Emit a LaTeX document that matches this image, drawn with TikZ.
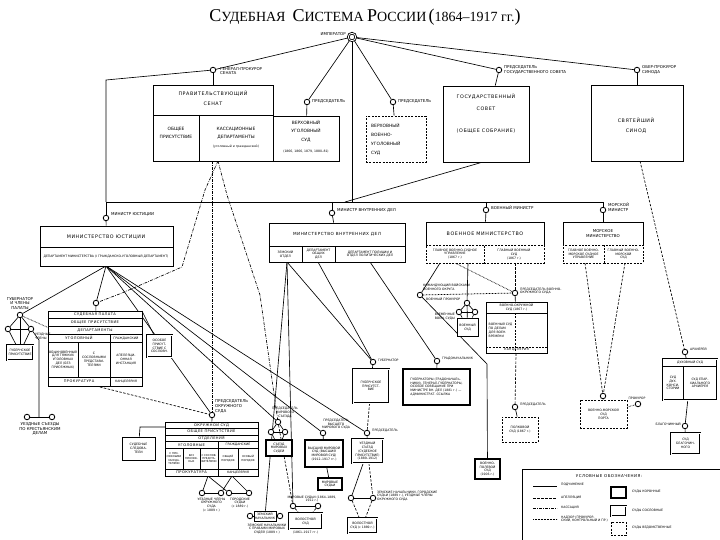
\documentclass[tikz,border=0pt]{standalone}
\usepackage{fontspec}
\setmainfont{DejaVu Sans}
\newfontfamily\hdrfont[LetterSpace=12]{DejaVu Sans}
\newfontfamily\serifT{Liberation Serif}
\usetikzlibrary{fit,backgrounds}
\newcommand\rbox[6]{\node[#1, fit={(#3,#4)(#5,#6)}] (#2) {};}
\newcommand\bigL[1]{{\fontsize{18}{18}\selectfont #1}}
\tikzset{
 t/.style={font=\fontsize{4}{4.9}\selectfont, inner sep=0, align=center},
 ts/.style={font=\fontsize{3.1}{3.8}\selectfont, inner sep=0, align=center},
 tw/.style={t, anchor=west, align=left},
 te/.style={t, anchor=east, align=right},
 thA/.style={font=\hdrfont\fontsize{4.8}{6}\selectfont, inner sep=0, align=center},
 thB/.style={font=\hdrfont\fontsize{3.6}{4.4}\selectfont, inner sep=0, align=center},
 bx/.style={draw, line width=0.9pt, inner sep=0, fill=white},
 kbx/.style={draw, line width=1.7pt, inner sep=0, fill=white},
 dbx/.style={draw, double, double distance=0.8pt, line width=0.65pt, inner sep=0, fill=white},
 vbx/.style={draw, line width=0.9pt, dash pattern=on 2pt off 1.3pt, inner sep=0, fill=white},
 cir/.style={circle, draw, line width=0.85pt, minimum size=5.5pt, inner sep=0, fill=white},
 pod/.style={line width=0.65pt},
 app/.style={line width=0.65pt, dash pattern=on 2.5pt off 1.5pt},
 kas/.style={line width=0.65pt, dash pattern=on 3pt off 1.2pt on 0.6pt off 1.2pt},
 nad/.style={line width=0.75pt, dash pattern=on 0.6pt off 0.9pt},
}
\begin{document}
\begin{tikzpicture}[x=1pt,y=-1pt]
\useasboundingbox (0,0) rectangle (720,540);
\begin{scope}[on background layer]
\fill[white] (0,0) rectangle (720,540);
\end{scope}

% ---------- title ----------
\node[font=\serifT\fontsize{14}{14}\selectfont, inner sep=0] (title) at (365,17)
 {\bigL{С}УДЕБНАЯ\ \ \bigL{С}ИСТЕМА \bigL{Р}ОССИИ\,\bigL{(}1864–1917 гг.\bigL{)}};

% ---------- circles ----------
\node[cir, double, double distance=0.8pt, minimum size=7.5pt] (E) at (352,37) {};
\node[cir] (GP) at (213,70) {};
\node[cir] (P1) at (307,102) {};
\node[cir] (P2) at (393,102) {};
\node[cir] (P3) at (499,70) {};
\node[cir] (P4) at (637,70) {};
\node[cir] (MJ) at (106,218) {};
\node[cir] (MV) at (332,213) {};
\node[cir] (MW) at (486,210) {};
\node[cir] (MM) at (603,210) {};
\node[cir] (SP) at (96,303) {};
\node[cir] (GT) at (20,315) {};
\node[cir] (GL) at (8,329) {};
\node[cir] (GR) at (31,329) {};
\node[cir] (BA1) at (27,417) {};
\node[cir] (BA2) at (52,417) {};
\node[cir] (OS) at (212,415) {};
\node[cir] (A1) at (202,493) {};
\node[cir] (A2) at (221,493) {};
\node[cir] (B1) at (229,493) {};
\node[cir] (B2) at (249,493) {};
\node[cir] (MS) at (278,422) {};
\node[cir] (MSL) at (271,432) {};
\node[cir] (MSR) at (285,432) {};
\node[cir] (HM) at (323,433) {};
\node[cir] (C1) at (293,506) {};
\node[cir] (C2) at (318,506) {};
\node[cir] (Z1) at (250,516) {};
\node[cir] (Z2) at (280,516) {};
\node[cir] (GV) at (373,362) {};
\node[cir] (PO) at (437,361) {};
\node[cir] (UE) at (367,433) {};
\node[cir] (N1) at (351,498) {};
\node[cir] (N2) at (373,498) {};
\node[cir] (TW) at (420,295) {};
\node[cir] (DT) at (467,303) {};
\node[cir] (DL) at (459,312) {};
\node[cir] (DR) at (475,312) {};
\node[cir] (MO) at (515,293) {};
\node[cir] (PC) at (515,407) {};
\node[cir] (NC) at (603,396) {};
\node[cir] (NP) at (638,404) {};
\node[cir] (CC) at (685,352) {};
\node[cir] (CC2) at (685,426) {};

% ---------- boxes ----------
\rbox{bx}{S}{153}{85}{273}{161}
\rbox{bx}{VUS}{273}{116}{339}{161}
\rbox{vbx}{VVUS}{366}{116}{426}{162}
\rbox{bx}{GS}{443}{86}{529}{162}
\rbox{bx}{SY}{591}{85}{683}{161}
\rbox{bx}{MJB}{40}{226}{173}{266}
\rbox{bx}{MVB}{269}{223}{405}{262}
\rbox{bx}{WMT}{426}{222}{544}{245}
\rbox{vbx}{WML}{426}{245}{484}{263}
\rbox{vbx}{WMR}{484}{245}{544}{263}
\rbox{bx}{NMT}{563}{222}{643}{245}
\rbox{vbx}{NML}{563}{245}{604}{263}
\rbox{vbx}{NMR}{604}{245}{643}{263}
\rbox{bx}{SPB}{48}{311}{142}{386}
\rbox{dbx}{OP}{147}{335}{172}{357}
\rbox{dbx}{GB}{7}{345}{33}{360}
\rbox{bx}{OSB}{165}{422}{258}{476}
\rbox{bx}{SL}{122}{437}{155}{460}
\rbox{kbx}{MSB}{266}{440}{292}{456}
\rbox{kbx}{HMB}{305}{440}{343}{467}
\rbox{kbx}{MSJ}{318}{478}{342}{490}
\rbox{dbx}{VB2}{289}{513}{322}{529}
\rbox{bx}{ZB}{254}{511}{276}{521}
\rbox{dbx}{GVB}{353}{369}{389}{403}
\rbox{kbx}{POB}{403}{369}{470}{405}
\rbox{dbx}{UEB}{352}{439}{383}{463}
\rbox{dbx}{VB}{348}{518}{377}{533}
\rbox{bx}{MOB}{486}{302}{547}{353}
\rbox{bx}{DB}{457}{318}{478}{336}
\rbox{vbx}{PCB}{502}{417}{538}{442}
\rbox{kbx}{VPS}{475}{459}{500}{479}
\rbox{vbx}{NCB}{580}{400}{627}{428}
\rbox{dbx}{CB}{663}{359}{717}{400}
\rbox{dbx}{CB2}{671}{433}{700}{454}

% inner divisions
\draw[line width=0.8pt] (153,115) -- (273,115) (199,115) -- (199,161);
\draw[line width=0.7pt] (40,247) -- (173,247);
\draw[line width=0.7pt] (269,246) -- (405,246) (302,246) -- (302,262) (335,246) -- (335,262);
\draw[line width=0.7pt] (48,318) -- (142,318) (48,326) -- (142,326) (48,334) -- (142,334) (48,342) -- (142,342) (48,377) -- (142,377) (110,334) -- (110,386) (78,342) -- (78,377);
\draw[line width=0.7pt] (165,428.5) -- (258,428.5) (165,435) -- (258,435) (165,441.5) -- (258,441.5) (165,448) -- (258,448) (165,469) -- (258,469) (218,441.5) -- (218,476) (183,448) -- (183,469) (200,448) -- (200,469) (238,448) -- (238,469);
\draw[line width=0.7pt] (486,313) -- (547,313);
\draw[line width=0.7pt, dash pattern=on 2pt off 1.3pt] (515,313) -- (515,353) (486,347) -- (547,347);
\draw[line width=0.7pt] (663,366) -- (717,366) (683,366) -- (683,400);

% ---------- connector points ----------
\coordinate (Lc) at (106,80);
\coordinate (Bl) at (106,202);
\coordinate (Bv) at (332,202);
\coordinate (Bm) at (352,202);
\coordinate (Bg) at (345,202);
\coordinate (Bw) at (486,202);
\coordinate (Br) at (603,202);
\coordinate (GSa) at (483,162);
\coordinate (Sk) at (218,161);
\coordinate (Sk2) at (212,161);
\coordinate (K1) at (205,190);
\coordinate (K2) at (182,267);
\coordinate (K3) at (122,293);
\coordinate (K4) at (227,195);
\coordinate (K5) at (260,295);
\coordinate (MJs) at (106,266);
\coordinate (Vg) at (39,340);
\coordinate (Bc) at (39,417);
\coordinate (OSa) at (208,476);
\coordinate (OSb) at (232,476);
\coordinate (OSw) at (165,427);
\coordinate (SLc) at (140,427);
\coordinate (MVz) at (287,262);
\coordinate (MVo) at (318,262);
\coordinate (MVp) at (370,262);
\coordinate (WMl) at (440,263);
\coordinate (WMl2) at (455,263);
\coordinate (WMm) at (468,263);
\coordinate (WMr) at (515,263);
\coordinate (Tk) at (487,364);
\coordinate (NMl) at (585,263);
\coordinate (NMr) at (625,263);
\coordinate (SYs) at (640,161);
\coordinate (SPne) at (142,311);
\coordinate (SPs) at (96,386);

% ---------- connectors ----------
\begin{scope}[on background layer]
\draw[pod] (E) -- (GP);
\draw[pod] (GP) -- (Lc) -- (Bl);
\draw[pod] (Bl) -- (Br);
\draw[pod] (E) -- (P1);
\draw[pod] (E) -- (P2);
\draw[pod] (E) -- (P3);
\draw[pod] (E) -- (P4);
\draw[pod] (E) -- (Bm);
\draw[pod] (GSa) -- (Bg);
\draw[pod] (GP) -- (S);
\draw[pod] (P1) -- (VUS);
\draw[pod] (P2) -- (VVUS);
\draw[pod] (P3) -- (GS);
\draw[pod] (P4) -- (SY);
\draw[pod] (Bl) -- (MJ);
\draw[pod] (Bv) -- (MV);
\draw[pod] (Bw) -- (MW);
\draw[pod] (Br) -- (MM);
\draw[pod] (MJ) -- (MJB);
\draw[pod] (MV) -- (MVB);
\draw[pod] (MW) -- (WMT);
\draw[pod] (MM) -- (NMT);
% cassation
\draw[kas] (Sk) -- (K1) -- (K2) -- (K3) -- (SP);
\draw[kas] (Sk2) -- (OS);
\draw[kas] (Sk) -- (K4) -- (K5) -- (MS);
% justice
\draw[pod] (MJs) -- (SP);
\draw[pod] (SP) -- (SPB);
\draw[pod] (SPne) -- (OP);
\draw[nad] (GT) -- (SPB);
\draw[pod] (MJs) -- (GT);
\draw[pod] (MJs) -- (OS);
\draw[pod] (MJs) -- (MS);
\draw[pod] (MJs) -- (HM);
\draw[pod] (MJs) -- (UE);
\draw[app] (SPs) -- (OS);
\draw[pod] (GT) -- (GL);
\draw[pod] (GT) -- (GR);
\draw[pod] (GL) -- (GR);
\draw[pod] (GL) -- (GB);
\draw[pod] (GR) -- (GB);
\draw[pod] (GT) -- (GB);
\draw[pod] (GR) -- (Vg) -- (Bc);
\draw[pod] (BA1) -- (BA2);
\draw[pod] (OS) -- (OSB);
\draw[pod] (OSa) -- (A1);
\draw[pod] (OSa) -- (B1);
\draw[pod] (OSb) -- (A2);
\draw[pod] (OSb) -- (B2);
\draw[pod] (A1) -- (A2);
\draw[pod] (B1) -- (B2);
\draw[pod] (OSw) -- (SLc) -- (SL);
\draw[pod] (MS) -- (MSL);
\draw[pod] (MS) -- (MSR);
\draw[pod] (MSL) -- (MSR);
\draw[pod] (MSL) -- (MSB);
\draw[pod] (MSR) -- (MSB);
\draw[pod] (HM) -- (HMB);
\draw[pod] (HMB) -- (MSJ);
\draw[pod] (C1) -- (C2);
\draw[app] (MS) -- (C1);
\draw[app] (C1) -- (VB2);
\draw[app] (C2) -- (VB2);
\draw[pod] (Z1) -- (ZB);
\draw[pod] (ZB) -- (Z2);
% interior
\draw[pod] (MVz) -- (GV);
\draw[pod] (MVz) -- (ZB);
\draw[pod] (MVz) -- (C1);
\draw[pod] (MVo) -- (GV);
\draw[pod] (MVp) -- (PO);
\draw[pod] (GV) -- (GVB);
\draw[pod] (PO) -- (POB);
\draw[app] (GVB) -- (UE);
\draw[pod] (UE) -- (UEB);
\draw[pod] (UEB) -- (N1);
\draw[app] (UEB) -- (N2);
\draw[pod] (N1) -- (N2);
\draw[app] (N1) -- (VB);
\draw[app] (N2) -- (VB);
% military
\draw[pod] (WMl) -- (TW);
\draw[pod] (TW) -- (Tk) -- (VPS);
\draw[pod] (WMm) -- (DT);
\draw[pod] (DT) -- (DL);
\draw[pod] (DT) -- (DR);
\draw[pod] (DL) -- (DR);
\draw[pod] (DL) -- (DB);
\draw[pod] (DR) -- (DB);
\draw[pod] (DT) -- (DB);
\draw[nad] (TW) -- (MO);
\draw[nad] (WMl2) -- (MO);
\draw[app] (WMr) -- (MO);
\draw[pod] (MO) -- (MOB);
\draw[app] (MOB) -- (PC);
\draw[pod] (PC) -- (PCB);
\draw[app] (NMl) -- (NC);
\draw[app] (NMr) -- (NC);
\draw[pod] (NC) -- (NCB);
\draw[nad] (NCB) -- (NP);
\draw[app] (SYs) -- (CC);
\draw[pod] (CC) -- (CB);
\draw[pod] (CB) -- (CC2);
\draw[pod] (CC2) -- (CB2);
\end{scope}

% ---------- texts ----------
\node[te] (tE) at (346,34) {ИМПЕРАТОР};
\node[tw] (tGP) at (220,71) {ГЕНЕРАЛ-ПРОКУРОР\\СЕНАТА};
\node[tw] (tP1) at (312,101) {ПРЕДСЕДАТЕЛЬ};
\node[tw] (tP2) at (398,101) {ПРЕДСЕДАТЕЛЬ};
\node[tw] (tP3) at (504,70) {ПРЕДСЕДАТЕЛЬ\\ГОСУДАРСТВЕННОГО СОВЕТА};
\node[tw] (tP4) at (642,70) {ОБЕР-ПРОКУРОР\\СИНОДА};
\node[thA] (tS1) at (213,94) {ПРАВИТЕЛЬСТВУЮЩИЙ};
\node[thA] (tS2) at (213,104) {СЕНАТ};
\node[t, font=\fontsize{4.4}{8}\selectfont] (tS3) at (176,133) {ОБЩЕЕ\\ПРИСУТСТВИЕ};
\node[t, font=\fontsize{4.4}{8}\selectfont] (tS4) at (236,133) {КАССАЦИОННЫЕ\\ДЕПАРТАМЕНТЫ};
\node[ts] (tS5) at (236,147) {(уголовный и гражданский)};
\node[t, font=\fontsize{4.4}{8.5}\selectfont] (tS6) at (306,131) {ВЕРХОВНЫЙ\\УГОЛОВНЫЙ\\СУД};
\node[ts] (tS7) at (306,152) {(1866, 1866, 1879, 1880–81)};
\node[tw, font=\fontsize{4.4}{9}\selectfont] (tVV) at (371,139) {ВЕРХОВНЫЙ\\ВОЕННО-\\УГОЛОВНЫЙ\\СУД};
\node[thA] (tGS1) at (486,97) {ГОСУДАРСТВЕННЫЙ};
\node[thA] (tGS2) at (486,109) {СОВЕТ};
\node[thA] (tGS3) at (486,131) {(ОБЩЕЕ СОБРАНИЕ)};
\node[thA] (tSY) at (636,126) {СВЯТЕЙШИЙ\\[4pt]СИНОД};
\node[tw] (tMJ) at (111,214) {МИНИСТР ЮСТИЦИИ};
\node[tw] (tMV) at (337,210) {МИНИСТР ВНУТРЕННИХ ДЕЛ};
\node[tw] (tMW) at (491,208) {ВОЕННЫЙ МИНИСТР};
\node[tw] (tMM) at (608,207) {МОРСКОЙ\\МИНИСТР};
\node[thA] (tMJB) at (106,237) {МИНИСТЕРСТВО ЮСТИЦИИ};
\node[ts] (tMJB2) at (106,256.5) {ДЕПАРТАМЕНТ МИНИСТЕРСТВА (I ГРАЖДАНСКО-УГОЛОВНЫЙ ДЕПАРТАМЕНТ)};
\node[thA, font=\hdrfont\fontsize{4.2}{5}\selectfont] (tMVB) at (337,234.5) {МИНИСТЕРСТВО ВНУТРЕННИХ ДЕЛ};
\node[ts] (tMV1) at (285.5,254) {ЗЕМСКИЙ\\ОТДЕЛ};
\node[ts] (tMV2) at (318.5,254) {ДЕПАРТАМЕНТ\\ОБЩИХ\\ДЕЛ};
\node[ts] (tMV3) at (370,254) {ДЕПАРТАМЕНТ ПОЛИЦИИ И\\ОТДЕЛ ПОЛИТИЧЕСКИХ ДЕЛ};
\node[thA] (tWM) at (485,233.5) {ВОЕННОЕ МИНИСТЕРСТВО};
\node[ts] (tWM1) at (455,254) {ГЛАВНОЕ ВОЕННО-СУДНОЕ\\УПРАВЛЕНИЕ\\(1867 г.)};
\node[ts] (tWM2) at (514,254) {ГЛАВНЫЙ ВОЕННЫЙ\\СУД\\(1867 г.)};
\node[t] (tNM) at (603,233.5) {МОРСКОЕ\\МИНИСТЕРСТВО};
\node[ts] (tNM1) at (583.5,254) {ГЛАВНОЕ ВОЕННО-\\МОРСКОЕ СУДНОЕ\\УПРАВЛЕНИЕ};
\node[ts] (tNM2) at (623.5,254) {ГЛАВНЫЙ ВОЕННО-\\МОРСКОЙ\\СУД};
% judicial chamber
\node[thB] (tSP1) at (95,314.5) {СУДЕБНАЯ ПАЛАТА};
\node[thB] (tSP2) at (95,322) {ОБЩЕЕ ПРИСУТСТВИЕ};
\node[thB] (tSP3) at (95,330) {ДЕПАРТАМЕНТЫ};
\node[thB] (tSP4) at (79,338) {УГОЛОВНЫЙ};
\node[ts] (tSP5) at (126,338) {ГРАЖДАНСКИЙ};
\node[ts] (tSP6) at (63,359.5) {ОБЫКНОВЕННЫЙ\\ДЛЯ ТЯЖКИХ\\УГОЛОВНЫХ\\ДЕЛ (БЕЗ\\ПРИСЯЖНЫХ)};
\node[ts] (tSP7) at (94,359.5) {С\\СОСЛОВНЫМИ\\ПРЕДСТАВИ-\\ТЕЛЯМИ};
\node[ts] (tSP8) at (126,359.5) {АПЕЛЛЯЦИ-\\ОННАЯ\\ИНСТАНЦИЯ};
\node[thB] (tSP9) at (79,381.5) {ПРОКУРАТУРА};
\node[ts] (tSP10) at (126,381.5) {КАНЦЕЛЯРИЯ};
\node[ts] (tOP) at (159.5,346) {ОСОБОЕ\\ПРИСУТ-\\СТВИЕ С\\СОСЛОВН.};
% left group
\node[t, anchor=south] (tGT) at (20,310) {ГУБЕРНАТОР\\И ЧЛЕНЫ\\ПАЛАТЫ};
\node[ts, anchor=west, align=left] (tGR) at (35,336) {УЕЗДНЫЕ\\ЧЛЕНЫ};
\node[ts] (tGB) at (20,352.5) {ГУБЕРНСКОЕ\\ПРИСУТСТВИЕ};
\node[t, anchor=north] (tBA) at (40,422) {УЕЗДНЫЕ СЪЕЗДЫ\\ПО КРЕСТЬЯНСКИМ\\ДЕЛАМ};
% district court
\node[tw, anchor=south west] (tOS) at (215,413) {ПРЕДСЕДАТЕЛЬ\\ОКРУЖНОГО\\СУДА};
\node[thB] (tO1) at (211.5,425.3) {ОКРУЖНОЙ СУД};
\node[thB] (tO2) at (211.5,431.8) {ОБЩЕЕ ПРИСУТСТВИЕ};
\node[thB] (tO3) at (211.5,438.3) {ОТДЕЛЕНИЯ};
\node[thB] (tO4) at (191.5,444.8) {УГОЛОВНЫЕ};
\node[ts] (tO5) at (238,444.8) {ГРАЖДАНСКИЕ};
\node[ts, font=\fontsize{2.6}{3.2}\selectfont] (tO6) at (174,458.5) {С ПРИ-\\СЯЖНЫМИ\\ЗАСЕДА-\\ТЕЛЯМИ};
\node[ts, font=\fontsize{2.6}{3.2}\selectfont] (tO7) at (191.5,458.5) {БЕЗ\\ПРИСЯЖ-\\НЫХ};
\node[ts, font=\fontsize{2.6}{3.2}\selectfont] (tO8) at (209,458.5) {С СОСЛОВ.\\ПРЕДСТА-\\ВИТЕЛЯМИ};
\node[ts, font=\fontsize{2.6}{3.2}\selectfont] (tO9) at (228,458.5) {ОБЩИЙ\\ПОРЯДОК};
\node[ts, font=\fontsize{2.6}{3.2}\selectfont] (tO10) at (248,458.5) {ОСОБЫЙ\\ПОРЯДОК};
\node[thB] (tO11) at (191.5,472.5) {ПРОКУРАТУРА};
\node[ts] (tO12) at (238,472.5) {КАНЦЕЛЯРИЯ};
\node[ts] (tSL) at (138.5,448.5) {СУДЕБНЫЕ\\СЛЕДОВА-\\ТЕЛИ};
\node[ts, anchor=north] (tA) at (211.5,497.5) {УЕЗДНЫЕ ЧЛЕНЫ\\ОКРУЖНОГО\\СУДА\\(с 1889 г.)};
\node[ts, anchor=north] (tB) at (240,497.5) {ГОРОДСКИЕ\\СУДЬИ\\(с 1889 г.)};
% justices of the peace
\node[ts, anchor=south] (tMS) at (285,418) {ПРЕДСЕДАТЕЛЬ\\МИРОВОГО\\СЪЕЗДА};
\node[ts] (tMSB) at (279,448) {СЪЕЗД\\МИРОВЫХ\\СУДЕЙ};
\node[ts, anchor=south west] (tHM) at (322,429.5) {ПРЕДСЕДАТЕЛЬ\\ВЫСШЕГО\\МИРОВОГО СУДА};
\node[ts] (tHMB) at (324,453.5) {ВЫСШИЙ МИРОВОЙ\\СУД (ВЫСШИЙ\\МИРОВОЙ СУД)\\(1912–1917 гг.)};
\node[ts] (tMSJ) at (330,484) {МИРОВЫЕ\\СУДЬИ};
\node[ts, anchor=south] (tC) at (312,502.5) {МИРОВЫЕ СУДЬИ (1864–1889,\\1912 г.)};
\node[ts] (tVB2) at (305.5,521) {ВОЛОСТНОЙ\\СУД};
\node[ts, anchor=north] (tVB2b) at (305.5,531) {(1861–1917 гг.)};
\node[ts] (tZB) at (265,516) {ЗЕМСКИЙ\\НАЧАЛЬНИК};
\node[ts, anchor=north] (tZ) at (267,523.5) {ЗЕМСКИЕ НАЧАЛЬНИКИ\\С ПРАВАМИ МИРОВЫХ\\СУДЕЙ (1889 г.)};
% interior ministry courts
\node[ts, anchor=west, align=left] (tGV) at (378,360) {ГУБЕРНАТОР};
\node[ts] (tGVB) at (371,386) {ГУБЕРНСКОЕ\\ПРИСУТСТ-\\ВИЕ};
\node[ts, anchor=west, align=left] (tPO) at (442,359) {ГРАДОНАЧАЛЬНИК};
\node[ts, align=left] (tPOB) at (436.5,387) {ГУБЕРНАТОРЫ (ГРАДОНАЧАЛЬ-\\НИКИ), ГЕНЕРАЛ-ГУБЕРНАТОРЫ,\\ОСОБОЕ СОВЕЩАНИЕ ПРИ\\МИНИСТРЕ ВН. ДЕЛ (1881 г.) —\\АДМИНИСТРАТ. ССЫЛКА};
\node[ts, anchor=west, align=left] (tUE) at (372,431) {ПРЕДСЕДАТЕЛЬ};
\node[ts] (tUEB) at (367.5,451) {УЕЗДНЫЙ\\СЪЕЗД\\(СУДЕБНОЕ\\ПРИСУТСТВИЕ)\\(1889–1912)};
\node[ts, anchor=west, align=left] (tN) at (377,496) {ЗЕМСКИЕ НАЧАЛЬНИКИ, ГОРОДСКИЕ\\СУДЬИ (1889 г.), УЕЗДНЫЕ ЧЛЕНЫ\\ОКРУЖНОГО СУДА};
\node[ts] (tVB) at (362.5,525.5) {ВОЛОСТНОЙ\\СУД (с 1889 г.)};
% military
\node[ts, anchor=south west, align=left] (tTW) at (423,291) {КОМАНДУЮЩИЙ ВОЙСКАМИ\\ВОЕННОГО ОКРУГА};
\node[ts, anchor=north west, align=left] (tTP) at (426,297.5) {ВОЕННЫЙ ПРОКУРОР};
\node[ts, anchor=east, align=right] (tDG) at (455,317) {ВРЕМЕННЫЕ\\ВОЕН. СУДЫ};
\node[ts] (tDB) at (467.5,327) {ВОЕННЫЙ\\СУД};
\node[ts, anchor=west, align=left] (tMO) at (520,291) {ПРЕДСЕДАТЕЛЬ ВОЕННО-\\ОКРУЖНОГО СУДА};
\node[ts] (tMOB) at (516.5,307.5) {ВОЕННО-ОКРУЖНОЙ\\СУД (1867 г.)};
\node[ts, align=left] (tMOB2) at (500.5,330) {ВОЕННЫЙ СУД\\ПО ДЕЛАМ\\ДЛЯ ВОЕН.\\ВРЕМЕНИ};
\node[thB, font=\hdrfont\fontsize{3}{3.6}\selectfont] (tMOB3) at (516.5,350) {КАНЦЕЛЯРИЯ};
\node[ts, anchor=west, align=left] (tPC) at (520,405) {ПРЕДСЕДАТЕЛЬ};
\node[ts] (tPCB) at (520,429.5) {ПОЛКОВОЙ\\СУД (1867 г.)};
\node[ts] (tVPS) at (487.5,469) {ВОЕННО-\\ПОЛЕВОЙ\\СУД\\(1906 г.)};
\node[ts] (tNCB) at (603.5,414) {ВОЕННО-МОРСКОЙ\\СУД\\ПОРТА};
\node[ts, anchor=south] (tNP) at (637,400) {ПРОКУРОР};
% church
\node[ts, anchor=west, align=left] (tCC) at (690,349) {АРХИЕРЕЙ};
\node[ts] (tCB) at (690,362.5) {ДУХОВНЫЙ СУД};
\node[ts] (tCB1) at (673,383) {СУД\\ДУХ.\\КОНСИ-\\СТОРИИ};
\node[ts] (tCB2) at (700,383) {СУД ЕПАР-\\ХИАЛЬНОГО\\АРХИЕРЕЯ};
\node[ts, anchor=east, align=right] (tCC2) at (681,424) {БЛАГОЧИННЫЙ};
\node[ts] (tCB3) at (685.5,443.5) {СУД\\БЛАГОЧИН-\\НОГО};

% ---------- legend ----------
\draw[line width=0.9pt] (522,545) -- (522,469) -- (725,469);
\node[thB, font=\hdrfont\fontsize{4}{5}\selectfont] (tLg) at (609,476.5) {УСЛОВНЫЕ ОБОЗНАЧЕНИЯ:};
\coordinate (La1) at (533,486); \coordinate (Lb1) at (557,486);
\coordinate (La2) at (533,498); \coordinate (Lb2) at (557,498);
\coordinate (La3) at (533,508); \coordinate (Lb3) at (557,508);
\coordinate (La4) at (533,519); \coordinate (Lb4) at (557,519);
\draw[pod] (La1) -- (Lb1);
\draw[app] (La2) -- (Lb2);
\draw[kas] (La3) -- (Lb3);
\draw[nad] (La4) -- (Lb4);
\node[ts, anchor=west] (tL1) at (561,485) {ПОДЧИНЕНИЕ};
\node[ts, anchor=west] (tL2) at (561,498) {АПЕЛЛЯЦИЯ};
\node[ts, anchor=west] (tL3) at (561,508) {КАССАЦИЯ};
\node[ts, anchor=west, align=left] (tL4) at (561,519) {НАДЗОР (ПРОКУРОР-\\СКИЙ, КОНТРОЛЬНЫЙ И ПР.)};
\rbox{kbx}{LK}{611}{487}{626}{498}
\rbox{dbx}{LS}{611}{506}{626}{516}
\rbox{vbx}{LV}{611}{522}{626}{535}
\node[ts, anchor=west] (tL5) at (632,492) {СУДЫ КОРОННЫЕ};
\node[ts, anchor=west] (tL6) at (632,511) {СУДЫ СОСЛОВНЫЕ};
\node[ts, anchor=west] (tL7) at (632,528) {СУДЫ ВЕДОМСТВЕННЫЕ};
\end{tikzpicture}
\end{document}
